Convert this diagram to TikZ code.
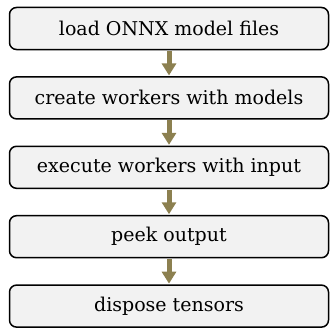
\documentclass[tikz,border=0pt]{standalone}
\usepackage{fontspec}
\setmainfont{DejaVu Serif}
\usetikzlibrary{arrows.meta}
\definecolor{boxfill}{HTML}{F2F2F2}
\definecolor{flowarrow}{HTML}{8C8050}
\tikzset{
  stepbox/.style={draw=black, fill=boxfill, line width=1.5pt, rounded corners=7pt,
    minimum width=319pt, minimum height=42pt, inner sep=0pt,
    font=\fontsize{19}{22}\selectfont},
  flow/.style={draw=flowarrow, line width=5pt,
    -{Triangle[width=14pt,length=12pt]}, shorten <=0.7pt, shorten >=0.7pt}
}
\begin{document}
\begin{tikzpicture}[x=1pt,y=-1pt]
  \useasboundingbox (0,0) rectangle (331,329);
  \node[stepbox] (load)    at (169,28.5)  {load ONNX model files};
  \node[stepbox] (create)  at (169,97.9)  {create workers with models};
  \node[stepbox] (execute) at (169,167.3) {execute workers with input};
  \node[stepbox] (peek)    at (169,236.7) {peek output};
  \node[stepbox] (dispose) at (169,306.1) {dispose tensors};
  \draw[flow] (load.south)    -- (create.north);
  \draw[flow] (create.south)  -- (execute.north);
  \draw[flow] (execute.south) -- (peek.north);
  \draw[flow] (peek.south)    -- (dispose.north);
\end{tikzpicture}
\end{document}
